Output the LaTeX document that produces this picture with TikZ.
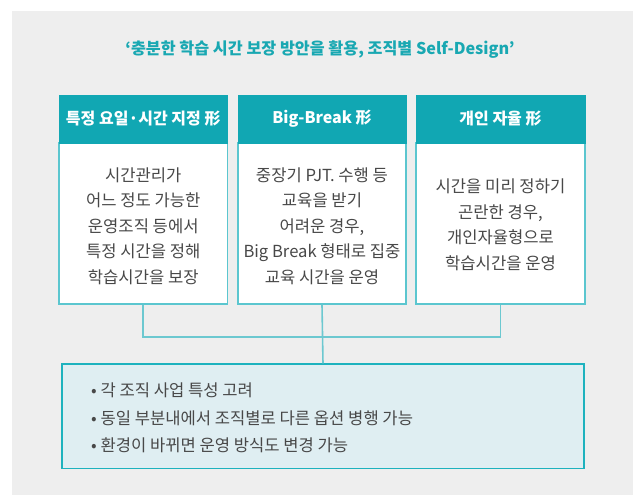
\documentclass[tikz,border=0pt]{standalone}
\usepackage{fontspec}
\setmainfont{Noto Sans CJK KR}
\definecolor{bggrey}{HTML}{EEEEEE}
\definecolor{teal1}{HTML}{11A7B3}
\definecolor{boxedge}{HTML}{5BC6CF}
\definecolor{lineclr}{HTML}{6CC8D0}
\definecolor{btmfill}{HTML}{DFEEF2}
\definecolor{btmedge}{HTML}{1DB2BE}
\definecolor{txtgrey}{HTML}{484848}
\definecolor{titleclr}{HTML}{19A8B2}
\tikzset{
  hdr/.style={fill=teal1, draw=teal1, line width=0.8pt, text=white, inner sep=0pt,
    minimum height=48pt, font=\fontsize{16}{18}\selectfont\bfseries},
  bodybox/.style={fill=white, draw=boxedge, line width=1.5pt, inner sep=0pt},
  bodytext/.style={align=center, text=txtgrey, inner sep=0pt,
    font=\fontsize{16.6}{25.5}\selectfont},
  conn/.style={draw=lineclr, line width=1.6pt},
  btmbox/.style={fill=btmfill, draw=btmedge, line width=1.2pt, inner sep=0pt,
    minimum width=522pt, minimum height=104.5pt},
  btmtext/.style={align=left, text=txtgrey, inner sep=0pt,
    font=\fontsize{16.6}{27.5}\selectfont}
}
\begin{document}
\begin{tikzpicture}[x=1pt,y=-1pt]
\useasboundingbox (0,0) rectangle (641,495);
\fill[bggrey] (12,11) rectangle (633,495);

\node[text=titleclr, font=\fontsize{16.2}{18}\selectfont\bfseries, inner sep=0pt] (title) at (320,50)
  {‘충분한 학습 시간 보장 방안을 활용, 조직별 Self-Design’};

\coordinate (j1) at (143.25,337);
\coordinate (j2) at (322,337);
\coordinate (j3) at (500.5,337);

% box bodies
\node[bodybox, minimum width=168.5pt, minimum height=161pt] (b1) at (143.25,223.5) {};
\node[bodybox, minimum width=168pt, minimum height=161pt] (b2) at (322,223.5) {};
\node[bodybox, minimum width=169pt, minimum height=161pt] (b3) at (500.5,223.5) {};

% headers
\node[hdr, minimum width=168.5pt] (h1) at (143.25,119) {특정 요일·시간 지정 形};
\node[hdr, minimum width=168pt] (h2) at (322,119) {Big-Break 形};
\node[hdr, minimum width=169pt] (h3) at (500.5,119) {개인 자율 形};

% body texts
\node[bodytext] (t1) at (143.25,226) {시간관리가\\어느 정도 가능한\\운영조직 등에서\\특정 시간을 정해\\학습시간을 보장};
\node[bodytext] (t2) at (322,226) {중장기 PJT. 수행 등\\교육을 받기\\어려운 경우,\\Big Break 형태로 집중\\교육 시간을 운영};
\node[bodytext] (t3) at (500.5,225) {시간을 미리 정하기\\곤란한 경우,\\개인자율형으로\\학습시간을 운영};

% bottom box
\node[btmbox] (btm) at (323,416.25) {};
\node[btmtext, anchor=west] (bt) at (91,418) {• 각 조직 사업 특성 고려\\• 동일 부분내에서 조직별로 다른 옵션 병행 가능\\• 환경이 바뀌면 운영 방식도 변경 가능};

% connectors
\draw[conn] (b1.south) -- (j1) -- (j3);
\draw[conn] (b3.south) -- (j3);
\draw[conn] (b2.south) -- (btm.north);
\end{tikzpicture}
\end{document}
